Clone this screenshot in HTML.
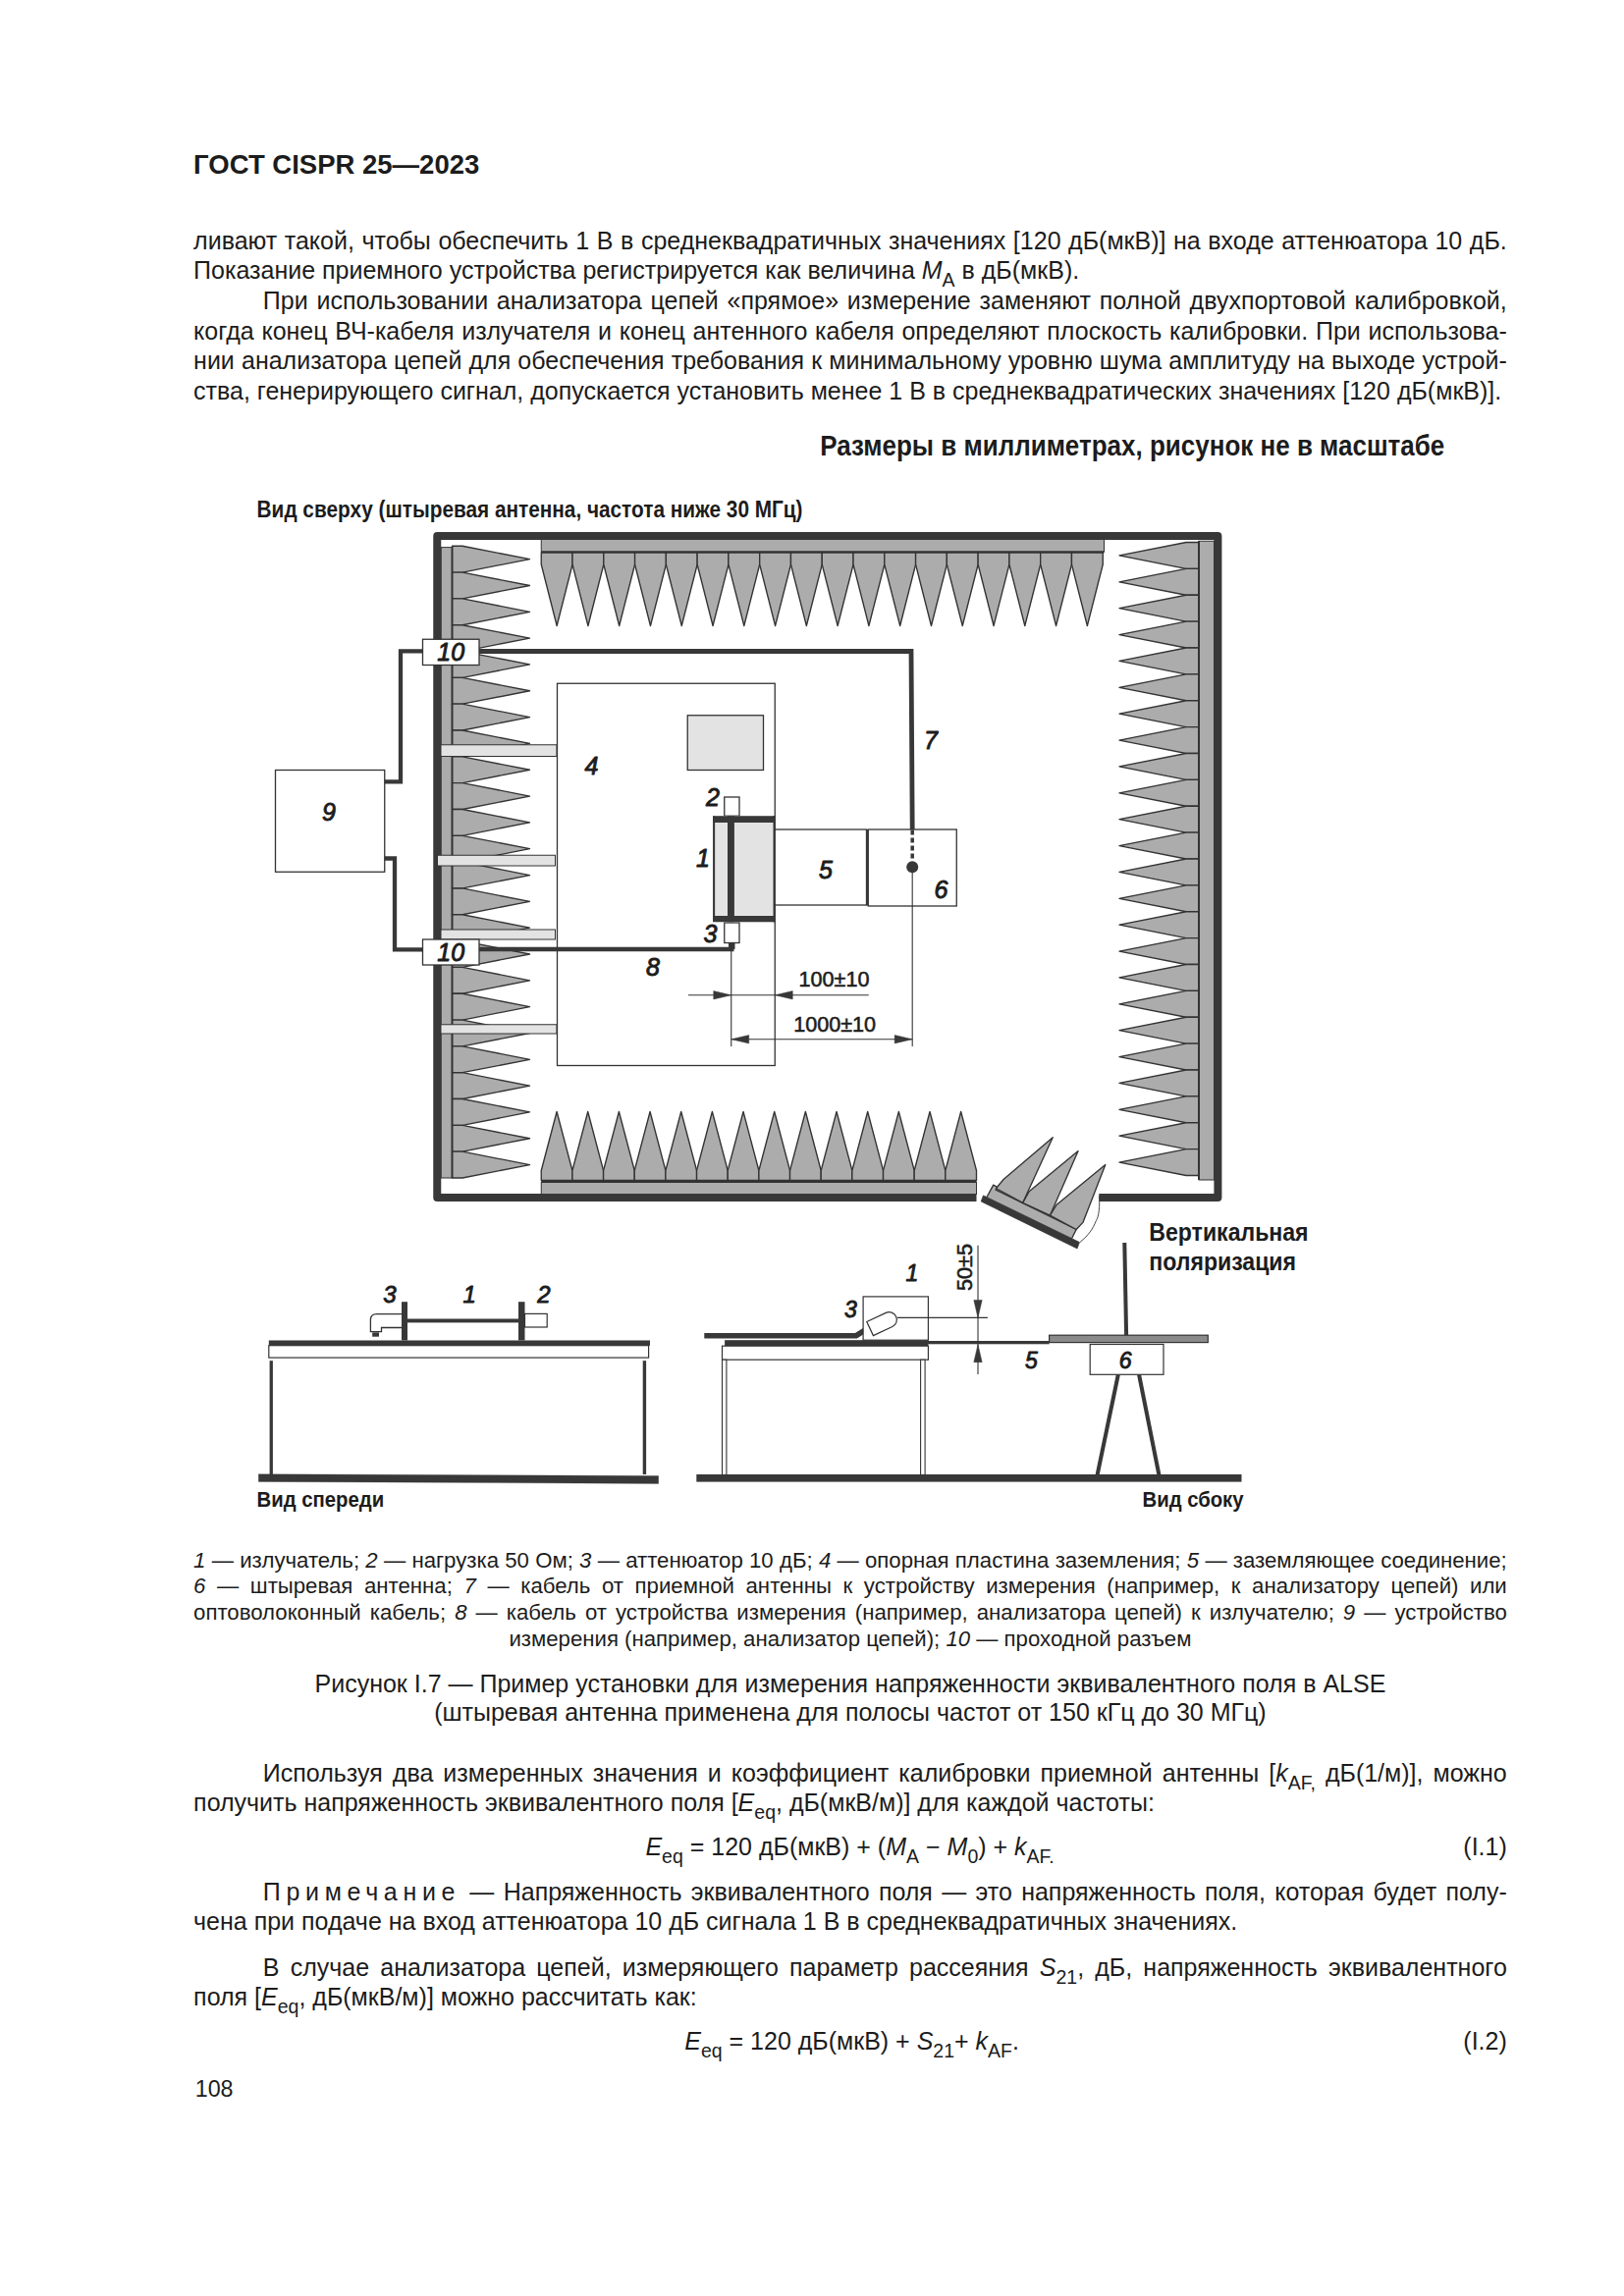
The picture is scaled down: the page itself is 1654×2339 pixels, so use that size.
<!DOCTYPE html>
<html><head><meta charset="utf-8"><title>ГОСТ CISPR 25—2023</title>
<style>
html,body{margin:0;padding:0;background:#fff;}
body{width:1654px;height:2339px;position:relative;overflow:hidden;font-family:"Liberation Sans",sans-serif;color:#1c1c1c;}
.l{position:absolute;white-space:nowrap;}
.l sub{font-size:0.78em;vertical-align:-0.42em;line-height:0;}
svg{position:absolute;left:0;top:0;}
svg text{font-family:"Liberation Sans",sans-serif;fill:#1c1c1c;}
svg text.dm{stroke:#1c1c1c;stroke-width:0.55px;}
svg text.bd{stroke:none;}
svg text.lb{stroke:#1c1c1c;stroke-width:0.9px;stroke-linejoin:round;}
</style></head>
<body>
<svg width="1654" height="2339" viewBox="0 0 1654 2339">
<rect x="449.25" y="557.60" width="11.25" height="642.40" fill="#acacac" stroke="#333" stroke-width="1.0"/>
<polygon points="460.50,556.25 471.00,556.25 539.50,569.66 471.00,583.07 460.50,583.07" fill="#acacac" stroke="#333" stroke-width="1.35" stroke-linejoin="round"/>
<polygon points="460.50,583.07 471.00,583.07 539.50,596.48 471.00,609.90 460.50,609.90" fill="#acacac" stroke="#333" stroke-width="1.35" stroke-linejoin="round"/>
<polygon points="460.50,609.90 471.00,609.90 539.50,623.31 471.00,636.72 460.50,636.72" fill="#acacac" stroke="#333" stroke-width="1.35" stroke-linejoin="round"/>
<polygon points="460.50,636.72 471.00,636.72 539.50,650.13 471.00,663.54 460.50,663.54" fill="#acacac" stroke="#333" stroke-width="1.35" stroke-linejoin="round"/>
<polygon points="460.50,663.54 471.00,663.54 539.50,676.95 471.00,690.36 460.50,690.36" fill="#acacac" stroke="#333" stroke-width="1.35" stroke-linejoin="round"/>
<polygon points="460.50,690.36 471.00,690.36 539.50,703.78 471.00,717.19 460.50,717.19" fill="#acacac" stroke="#333" stroke-width="1.35" stroke-linejoin="round"/>
<polygon points="460.50,717.19 471.00,717.19 539.50,730.60 471.00,744.01 460.50,744.01" fill="#acacac" stroke="#333" stroke-width="1.35" stroke-linejoin="round"/>
<polygon points="460.50,744.01 471.00,744.01 539.50,757.42 471.00,770.83 460.50,770.83" fill="#acacac" stroke="#333" stroke-width="1.35" stroke-linejoin="round"/>
<polygon points="460.50,770.83 471.00,770.83 539.50,784.24 471.00,797.66 460.50,797.66" fill="#acacac" stroke="#333" stroke-width="1.35" stroke-linejoin="round"/>
<polygon points="460.50,797.66 471.00,797.66 539.50,811.07 471.00,824.48 460.50,824.48" fill="#acacac" stroke="#333" stroke-width="1.35" stroke-linejoin="round"/>
<polygon points="460.50,824.48 471.00,824.48 539.50,837.89 471.00,851.30 460.50,851.30" fill="#acacac" stroke="#333" stroke-width="1.35" stroke-linejoin="round"/>
<polygon points="460.50,851.30 471.00,851.30 539.50,864.71 471.00,878.12 460.50,878.12" fill="#acacac" stroke="#333" stroke-width="1.35" stroke-linejoin="round"/>
<polygon points="460.50,878.12 471.00,878.12 539.50,891.54 471.00,904.95 460.50,904.95" fill="#acacac" stroke="#333" stroke-width="1.35" stroke-linejoin="round"/>
<polygon points="460.50,904.95 471.00,904.95 539.50,918.36 471.00,931.77 460.50,931.77" fill="#acacac" stroke="#333" stroke-width="1.35" stroke-linejoin="round"/>
<polygon points="460.50,931.77 471.00,931.77 539.50,945.18 471.00,958.59 460.50,958.59" fill="#acacac" stroke="#333" stroke-width="1.35" stroke-linejoin="round"/>
<polygon points="460.50,958.59 471.00,958.59 539.50,972.01 471.00,985.42 460.50,985.42" fill="#acacac" stroke="#333" stroke-width="1.35" stroke-linejoin="round"/>
<polygon points="460.50,985.42 471.00,985.42 539.50,998.83 471.00,1012.24 460.50,1012.24" fill="#acacac" stroke="#333" stroke-width="1.35" stroke-linejoin="round"/>
<polygon points="460.50,1012.24 471.00,1012.24 539.50,1025.65 471.00,1039.06 460.50,1039.06" fill="#acacac" stroke="#333" stroke-width="1.35" stroke-linejoin="round"/>
<polygon points="460.50,1039.06 471.00,1039.06 539.50,1052.47 471.00,1065.89 460.50,1065.89" fill="#acacac" stroke="#333" stroke-width="1.35" stroke-linejoin="round"/>
<polygon points="460.50,1065.89 471.00,1065.89 539.50,1079.30 471.00,1092.71 460.50,1092.71" fill="#acacac" stroke="#333" stroke-width="1.35" stroke-linejoin="round"/>
<polygon points="460.50,1092.71 471.00,1092.71 539.50,1106.12 471.00,1119.53 460.50,1119.53" fill="#acacac" stroke="#333" stroke-width="1.35" stroke-linejoin="round"/>
<polygon points="460.50,1119.53 471.00,1119.53 539.50,1132.94 471.00,1146.35 460.50,1146.35" fill="#acacac" stroke="#333" stroke-width="1.35" stroke-linejoin="round"/>
<polygon points="460.50,1146.35 471.00,1146.35 539.50,1159.77 471.00,1173.18 460.50,1173.18" fill="#acacac" stroke="#333" stroke-width="1.35" stroke-linejoin="round"/>
<polygon points="460.50,1173.18 471.00,1173.18 539.50,1186.59 471.00,1200.00 460.50,1200.00" fill="#acacac" stroke="#333" stroke-width="1.35" stroke-linejoin="round"/>
<line x1="460.5" y1="557" x2="460.5" y2="1200" stroke="#333" stroke-width="1.8"/>
<rect x="1221.25" y="551.25" width="15.25" height="650.75" fill="#acacac" stroke="#333" stroke-width="1.0"/>
<polygon points="1221.00,552.50 1208.00,552.50 1140.00,565.94 1208.00,579.38 1221.00,579.38" fill="#acacac" stroke="#333" stroke-width="1.35" stroke-linejoin="round"/>
<polygon points="1221.00,579.38 1208.00,579.38 1140.00,592.81 1208.00,606.25 1221.00,606.25" fill="#acacac" stroke="#333" stroke-width="1.35" stroke-linejoin="round"/>
<polygon points="1221.00,606.25 1208.00,606.25 1140.00,619.69 1208.00,633.12 1221.00,633.12" fill="#acacac" stroke="#333" stroke-width="1.35" stroke-linejoin="round"/>
<polygon points="1221.00,633.12 1208.00,633.12 1140.00,646.56 1208.00,660.00 1221.00,660.00" fill="#acacac" stroke="#333" stroke-width="1.35" stroke-linejoin="round"/>
<polygon points="1221.00,660.00 1208.00,660.00 1140.00,673.44 1208.00,686.88 1221.00,686.88" fill="#acacac" stroke="#333" stroke-width="1.35" stroke-linejoin="round"/>
<polygon points="1221.00,686.88 1208.00,686.88 1140.00,700.31 1208.00,713.75 1221.00,713.75" fill="#acacac" stroke="#333" stroke-width="1.35" stroke-linejoin="round"/>
<polygon points="1221.00,713.75 1208.00,713.75 1140.00,727.19 1208.00,740.62 1221.00,740.62" fill="#acacac" stroke="#333" stroke-width="1.35" stroke-linejoin="round"/>
<polygon points="1221.00,740.62 1208.00,740.62 1140.00,754.06 1208.00,767.50 1221.00,767.50" fill="#acacac" stroke="#333" stroke-width="1.35" stroke-linejoin="round"/>
<polygon points="1221.00,767.50 1208.00,767.50 1140.00,780.94 1208.00,794.38 1221.00,794.38" fill="#acacac" stroke="#333" stroke-width="1.35" stroke-linejoin="round"/>
<polygon points="1221.00,794.38 1208.00,794.38 1140.00,807.81 1208.00,821.25 1221.00,821.25" fill="#acacac" stroke="#333" stroke-width="1.35" stroke-linejoin="round"/>
<polygon points="1221.00,821.25 1208.00,821.25 1140.00,834.69 1208.00,848.12 1221.00,848.12" fill="#acacac" stroke="#333" stroke-width="1.35" stroke-linejoin="round"/>
<polygon points="1221.00,848.12 1208.00,848.12 1140.00,861.56 1208.00,875.00 1221.00,875.00" fill="#acacac" stroke="#333" stroke-width="1.35" stroke-linejoin="round"/>
<polygon points="1221.00,875.00 1208.00,875.00 1140.00,888.44 1208.00,901.88 1221.00,901.88" fill="#acacac" stroke="#333" stroke-width="1.35" stroke-linejoin="round"/>
<polygon points="1221.00,901.88 1208.00,901.88 1140.00,915.31 1208.00,928.75 1221.00,928.75" fill="#acacac" stroke="#333" stroke-width="1.35" stroke-linejoin="round"/>
<polygon points="1221.00,928.75 1208.00,928.75 1140.00,942.19 1208.00,955.62 1221.00,955.62" fill="#acacac" stroke="#333" stroke-width="1.35" stroke-linejoin="round"/>
<polygon points="1221.00,955.62 1208.00,955.62 1140.00,969.06 1208.00,982.50 1221.00,982.50" fill="#acacac" stroke="#333" stroke-width="1.35" stroke-linejoin="round"/>
<polygon points="1221.00,982.50 1208.00,982.50 1140.00,995.94 1208.00,1009.38 1221.00,1009.38" fill="#acacac" stroke="#333" stroke-width="1.35" stroke-linejoin="round"/>
<polygon points="1221.00,1009.38 1208.00,1009.38 1140.00,1022.81 1208.00,1036.25 1221.00,1036.25" fill="#acacac" stroke="#333" stroke-width="1.35" stroke-linejoin="round"/>
<polygon points="1221.00,1036.25 1208.00,1036.25 1140.00,1049.69 1208.00,1063.12 1221.00,1063.12" fill="#acacac" stroke="#333" stroke-width="1.35" stroke-linejoin="round"/>
<polygon points="1221.00,1063.12 1208.00,1063.12 1140.00,1076.56 1208.00,1090.00 1221.00,1090.00" fill="#acacac" stroke="#333" stroke-width="1.35" stroke-linejoin="round"/>
<polygon points="1221.00,1090.00 1208.00,1090.00 1140.00,1103.44 1208.00,1116.88 1221.00,1116.88" fill="#acacac" stroke="#333" stroke-width="1.35" stroke-linejoin="round"/>
<polygon points="1221.00,1116.88 1208.00,1116.88 1140.00,1130.31 1208.00,1143.75 1221.00,1143.75" fill="#acacac" stroke="#333" stroke-width="1.35" stroke-linejoin="round"/>
<polygon points="1221.00,1143.75 1208.00,1143.75 1140.00,1157.19 1208.00,1170.62 1221.00,1170.62" fill="#acacac" stroke="#333" stroke-width="1.35" stroke-linejoin="round"/>
<polygon points="1221.00,1170.62 1208.00,1170.62 1140.00,1184.06 1208.00,1197.50 1221.00,1197.50" fill="#acacac" stroke="#333" stroke-width="1.35" stroke-linejoin="round"/>
<line x1="1221" y1="551" x2="1221" y2="1202" stroke="#333" stroke-width="2"/>
<rect x="551.25" y="549.50" width="573.25" height="12.50" fill="#acacac" stroke="#333" stroke-width="1.0"/>
<line x1="551.25" y1="562.5" x2="1124.5" y2="562.5" stroke="#333" stroke-width="2"/>
<polygon points="551.25,563.00 551.25,575.00 567.14,637.50 583.03,575.00 583.03,563.00" fill="#acacac" stroke="#333" stroke-width="1.35" stroke-linejoin="round"/>
<polygon points="583.03,563.00 583.03,575.00 598.92,637.50 614.81,575.00 614.81,563.00" fill="#acacac" stroke="#333" stroke-width="1.35" stroke-linejoin="round"/>
<polygon points="614.81,563.00 614.81,575.00 630.69,637.50 646.58,575.00 646.58,563.00" fill="#acacac" stroke="#333" stroke-width="1.35" stroke-linejoin="round"/>
<polygon points="646.58,563.00 646.58,575.00 662.47,637.50 678.36,575.00 678.36,563.00" fill="#acacac" stroke="#333" stroke-width="1.35" stroke-linejoin="round"/>
<polygon points="678.36,563.00 678.36,575.00 694.25,637.50 710.14,575.00 710.14,563.00" fill="#acacac" stroke="#333" stroke-width="1.35" stroke-linejoin="round"/>
<polygon points="710.14,563.00 710.14,575.00 726.03,637.50 741.92,575.00 741.92,563.00" fill="#acacac" stroke="#333" stroke-width="1.35" stroke-linejoin="round"/>
<polygon points="741.92,563.00 741.92,575.00 757.81,637.50 773.69,575.00 773.69,563.00" fill="#acacac" stroke="#333" stroke-width="1.35" stroke-linejoin="round"/>
<polygon points="773.69,563.00 773.69,575.00 789.58,637.50 805.47,575.00 805.47,563.00" fill="#acacac" stroke="#333" stroke-width="1.35" stroke-linejoin="round"/>
<polygon points="805.47,563.00 805.47,575.00 821.36,637.50 837.25,575.00 837.25,563.00" fill="#acacac" stroke="#333" stroke-width="1.35" stroke-linejoin="round"/>
<polygon points="837.25,563.00 837.25,575.00 853.14,637.50 869.03,575.00 869.03,563.00" fill="#acacac" stroke="#333" stroke-width="1.35" stroke-linejoin="round"/>
<polygon points="869.03,563.00 869.03,575.00 884.92,637.50 900.81,575.00 900.81,563.00" fill="#acacac" stroke="#333" stroke-width="1.35" stroke-linejoin="round"/>
<polygon points="900.81,563.00 900.81,575.00 916.69,637.50 932.58,575.00 932.58,563.00" fill="#acacac" stroke="#333" stroke-width="1.35" stroke-linejoin="round"/>
<polygon points="932.58,563.00 932.58,575.00 948.47,637.50 964.36,575.00 964.36,563.00" fill="#acacac" stroke="#333" stroke-width="1.35" stroke-linejoin="round"/>
<polygon points="964.36,563.00 964.36,575.00 980.25,637.50 996.14,575.00 996.14,563.00" fill="#acacac" stroke="#333" stroke-width="1.35" stroke-linejoin="round"/>
<polygon points="996.14,563.00 996.14,575.00 1012.03,637.50 1027.92,575.00 1027.92,563.00" fill="#acacac" stroke="#333" stroke-width="1.35" stroke-linejoin="round"/>
<polygon points="1027.92,563.00 1027.92,575.00 1043.81,637.50 1059.69,575.00 1059.69,563.00" fill="#acacac" stroke="#333" stroke-width="1.35" stroke-linejoin="round"/>
<polygon points="1059.69,563.00 1059.69,575.00 1075.58,637.50 1091.47,575.00 1091.47,563.00" fill="#acacac" stroke="#333" stroke-width="1.35" stroke-linejoin="round"/>
<polygon points="1091.47,563.00 1091.47,575.00 1107.36,637.50 1123.25,575.00 1123.25,563.00" fill="#acacac" stroke="#333" stroke-width="1.35" stroke-linejoin="round"/>
<rect x="551.25" y="1204.50" width="443.25" height="12.00" fill="#acacac" stroke="#333" stroke-width="1.0"/>
<line x1="551.25" y1="1203.5" x2="994.5" y2="1203.5" stroke="#333" stroke-width="2.4"/>
<polygon points="551.25,1202.50 551.25,1192.50 567.08,1132.50 582.91,1192.50 582.91,1202.50" fill="#acacac" stroke="#333" stroke-width="1.35" stroke-linejoin="round"/>
<polygon points="582.91,1202.50 582.91,1192.50 598.74,1132.50 614.57,1192.50 614.57,1202.50" fill="#acacac" stroke="#333" stroke-width="1.35" stroke-linejoin="round"/>
<polygon points="614.57,1202.50 614.57,1192.50 630.40,1132.50 646.23,1192.50 646.23,1202.50" fill="#acacac" stroke="#333" stroke-width="1.35" stroke-linejoin="round"/>
<polygon points="646.23,1202.50 646.23,1192.50 662.06,1132.50 677.89,1192.50 677.89,1202.50" fill="#acacac" stroke="#333" stroke-width="1.35" stroke-linejoin="round"/>
<polygon points="677.89,1202.50 677.89,1192.50 693.72,1132.50 709.55,1192.50 709.55,1202.50" fill="#acacac" stroke="#333" stroke-width="1.35" stroke-linejoin="round"/>
<polygon points="709.55,1202.50 709.55,1192.50 725.38,1132.50 741.21,1192.50 741.21,1202.50" fill="#acacac" stroke="#333" stroke-width="1.35" stroke-linejoin="round"/>
<polygon points="741.21,1202.50 741.21,1192.50 757.04,1132.50 772.88,1192.50 772.88,1202.50" fill="#acacac" stroke="#333" stroke-width="1.35" stroke-linejoin="round"/>
<polygon points="772.88,1202.50 772.88,1192.50 788.71,1132.50 804.54,1192.50 804.54,1202.50" fill="#acacac" stroke="#333" stroke-width="1.35" stroke-linejoin="round"/>
<polygon points="804.54,1202.50 804.54,1192.50 820.37,1132.50 836.20,1192.50 836.20,1202.50" fill="#acacac" stroke="#333" stroke-width="1.35" stroke-linejoin="round"/>
<polygon points="836.20,1202.50 836.20,1192.50 852.03,1132.50 867.86,1192.50 867.86,1202.50" fill="#acacac" stroke="#333" stroke-width="1.35" stroke-linejoin="round"/>
<polygon points="867.86,1202.50 867.86,1192.50 883.69,1132.50 899.52,1192.50 899.52,1202.50" fill="#acacac" stroke="#333" stroke-width="1.35" stroke-linejoin="round"/>
<polygon points="899.52,1202.50 899.52,1192.50 915.35,1132.50 931.18,1192.50 931.18,1202.50" fill="#acacac" stroke="#333" stroke-width="1.35" stroke-linejoin="round"/>
<polygon points="931.18,1202.50 931.18,1192.50 947.01,1132.50 962.84,1192.50 962.84,1202.50" fill="#acacac" stroke="#333" stroke-width="1.35" stroke-linejoin="round"/>
<polygon points="962.84,1202.50 962.84,1192.50 978.67,1132.50 994.50,1192.50 994.50,1202.50" fill="#acacac" stroke="#333" stroke-width="1.35" stroke-linejoin="round"/>
<path d="M 994.5 1220 L 445.25 1220 L 445.25 546 L 1240.4 546 L 1240.4 1220 L 1119.3 1220" fill="none" stroke="#383838" stroke-width="8" stroke-linejoin="round"/>
<polygon points="1004.20,1221.00 1011.70,1207.10 1015.40,1209.10 1014.20,1212.10 1096.20,1252.50 1090.60,1263.50" fill="#acacac" stroke="#333" stroke-width="1.35" stroke-linejoin="round"/>
<polygon points="1001.50,1217.90 1099.40,1265.50 1097.10,1271.90 999.20,1223.90" fill="#383838" stroke="#383838" stroke-width="0.8" stroke-linejoin="round"/>
<polygon points="1014.90,1211.00 1016.80,1207.70 1022.30,1201.30 1072.20,1158.80 1041.70,1225.30" fill="#acacac" stroke="#333" stroke-width="1.35" stroke-linejoin="round"/>
<polygon points="1041.70,1225.30 1048.20,1213.70 1098.10,1172.60 1069.40,1238.20" fill="#acacac" stroke="#333" stroke-width="1.35" stroke-linejoin="round"/>
<polygon points="1069.40,1238.20 1075.90,1227.60 1125.80,1186.50 1103.10,1245.10 1096.20,1252.50" fill="#acacac" stroke="#333" stroke-width="1.35" stroke-linejoin="round"/>
<path d="M 1119.3 1218.3 C 1120.5 1228 1119 1240 1116.5 1243.3 C 1113 1252 1109 1258 1099.9 1265.5" fill="#fff" stroke="#333" stroke-width="0.9" />
<rect x="449.00" y="758.75" width="118.00" height="11.75" fill="#e3e3e3" stroke="#333" stroke-width="1.0"/>
<rect x="445.50" y="871.25" width="120.00" height="10.75" fill="#e3e3e3" stroke="#333" stroke-width="1.0"/>
<rect x="449.00" y="947.00" width="116.50" height="10.00" fill="#e3e3e3" stroke="#333" stroke-width="1.0"/>
<rect x="449.00" y="1043.75" width="118.00" height="9.25" fill="#e3e3e3" stroke="#333" stroke-width="1.0"/>
<rect x="567.50" y="696.25" width="221.75" height="389.25" fill="#fff" stroke="#333" stroke-width="1.3"/>
<rect x="700.25" y="728.75" width="77.25" height="55.75" fill="#e3e3e3" stroke="#333" stroke-width="1.3"/>
<rect x="280.50" y="784.50" width="111.25" height="103.75" fill="#fff" stroke="#333" stroke-width="1.3"/>
<path d="M 430.5 663.4 L 408 663.4 L 408 796.3 L 391.75 796.3" fill="none" stroke="#383838" stroke-width="4.3" />
<path d="M 488 663.5 L 928 663.5 L 929.2 845.5" fill="none" stroke="#383838" stroke-width="4.8" />
<path d="M 929.2 845.5 L 929.2 876" fill="none" stroke="#383838" stroke-width="3.5" stroke-dasharray="5 3"/>
<circle cx="929.2" cy="883.3" r="6" fill="#383838"/>
<path d="M 391.75 874.5 L 402 874.5 L 402 967.3 L 430.5 967.3" fill="none" stroke="#383838" stroke-width="4.3" />
<path d="M 488 967.1 L 747.5 967.1" fill="none" stroke="#383838" stroke-width="4.5" />
<rect x="742.00" y="958.00" width="6.50" height="9.00" fill="#383838"/>
<rect x="430.50" y="651.25" width="57.50" height="26.25" fill="#fff" stroke="#333" stroke-width="1.3"/>
<rect x="430.50" y="957.00" width="57.50" height="26.00" fill="#fff" stroke="#333" stroke-width="1.3"/>
<rect x="737.75" y="812.00" width="15.25" height="19.25" fill="#fff" stroke="#333" stroke-width="1.3"/>
<rect x="737.75" y="940.00" width="15.25" height="20.50" fill="#fff" stroke="#333" stroke-width="1.3"/>
<rect x="726.00" y="831.25" width="62.50" height="108.00" fill="#e3e3e3"/>
<line x1="727.1" y1="831.5" x2="727.1" y2="939" stroke="#383838" stroke-width="2.1"/>
<rect x="726.00" y="831.25" width="62.50" height="6.75" fill="#383838"/>
<rect x="726.00" y="933.00" width="62.50" height="6.25" fill="#383838"/>
<rect x="741.00" y="831.25" width="6.90" height="108.00" fill="#383838"/>
<line x1="788.6" y1="831" x2="788.6" y2="939.5" stroke="#383838" stroke-width="2.2"/>
<rect x="789.25" y="845.00" width="93.25" height="77.00" fill="#fff" stroke="#333" stroke-width="1.3"/>
<rect x="884.25" y="845.00" width="90.00" height="78.00" fill="#fff" stroke="#333" stroke-width="1.3"/>
<line x1="883.3" y1="845" x2="883.3" y2="922.5" stroke="#383838" stroke-width="2"/>
<path d="M 929.2 845.5 L 929.2 876" fill="none" stroke="#383838" stroke-width="3.5" stroke-dasharray="5 3"/>
<circle cx="929.2" cy="883.3" r="6" fill="#383838"/>
<line x1="744.75" y1="962" x2="744.75" y2="1066" stroke="#333" stroke-width="1.1"/>
<line x1="929.2" y1="889" x2="929.2" y2="1066" stroke="#333" stroke-width="1.1"/>
<line x1="701" y1="1013.75" x2="884.75" y2="1013.75" stroke="#333" stroke-width="1.1"/>
<polygon points="744.75,1013.75 726.75,1017.95 726.75,1009.55" fill="#383838" stroke="#383838" stroke-width="0.5" stroke-linejoin="round"/>
<polygon points="789.25,1013.75 807.25,1009.55 807.25,1017.95" fill="#383838" stroke="#383838" stroke-width="0.5" stroke-linejoin="round"/>
<line x1="744.75" y1="1058.7" x2="929.2" y2="1058.7" stroke="#333" stroke-width="1.1"/>
<polygon points="744.75,1058.70 762.75,1054.50 762.75,1062.90" fill="#383838" stroke="#383838" stroke-width="0.5" stroke-linejoin="round"/>
<polygon points="929.20,1058.70 911.20,1062.90 911.20,1054.50" fill="#383838" stroke="#383838" stroke-width="0.5" stroke-linejoin="round"/>
<text x="849.5" y="1005" font-size="21.6" text-anchor="middle" class="dm">100±10</text>
<text x="850.1" y="1051.3" font-size="21.6" text-anchor="middle" class="dm">1000±10</text>
<text x="459.25" y="673.35" font-size="25" font-style="italic" text-anchor="middle" class="lb">10</text>
<text x="459.25" y="978.95" font-size="25" font-style="italic" text-anchor="middle" class="lb">10</text>
<text x="335.00" y="836.45" font-size="25" font-style="italic" text-anchor="middle" class="lb">9</text>
<text x="602.50" y="788.95" font-size="25" font-style="italic" text-anchor="middle" class="lb">4</text>
<text x="948.00" y="762.70" font-size="25" font-style="italic" text-anchor="middle" class="lb">7</text>
<text x="726.00" y="821.45" font-size="25" font-style="italic" text-anchor="middle" class="lb">2</text>
<text x="716.00" y="882.70" font-size="25" font-style="italic" text-anchor="middle" class="lb">1</text>
<text x="723.50" y="960.20" font-size="25" font-style="italic" text-anchor="middle" class="lb">3</text>
<text x="841.00" y="895.20" font-size="25" font-style="italic" text-anchor="middle" class="lb">5</text>
<text x="958.50" y="915.20" font-size="25" font-style="italic" text-anchor="middle" class="lb">6</text>
<text x="665.00" y="993.95" font-size="25" font-style="italic" text-anchor="middle" class="lb">8</text>
<rect x="273.80" y="1370.70" width="386.80" height="12.40" fill="#fff" stroke="#333" stroke-width="1.2"/>
<rect x="273.80" y="1365.50" width="388.20" height="5.40" fill="#383838"/>
<rect x="274.60" y="1386.20" width="3.30" height="115.80" fill="#383838"/>
<rect x="654.70" y="1386.20" width="3.40" height="115.80" fill="#383838"/>
<polygon points="263.30,1501.70 670.70,1503.50 670.70,1511.40 263.30,1509.40" fill="#383838" stroke="#383838" stroke-width="0.3" stroke-linejoin="round"/>
<rect x="409.00" y="1326.20" width="6.00" height="39.30" fill="#383838"/>
<rect x="528.00" y="1326.20" width="6.50" height="39.30" fill="#383838"/>
<rect x="415.00" y="1343.50" width="113.00" height="3.90" fill="#383838"/>
<rect x="534.50" y="1338.40" width="22.70" height="13.60" fill="#fff" stroke="#333" stroke-width="1.2"/>
<path d="M 409 1338.6 L 383.5 1338.6 Q 377.4 1338.6 377.4 1344.5 L 377.4 1356.6 L 388.5 1356.6 L 388.5 1352.5 L 409 1352.5" fill="#fff" stroke="#333" stroke-width="1.3" />
<rect x="379.20" y="1357.40" width="6.80" height="4.30" fill="#383838"/>
<text x="396.90" y="1327.19" font-size="24" font-style="italic" text-anchor="middle" class="lb">3</text>
<text x="478.30" y="1327.19" font-size="24" font-style="italic" text-anchor="middle" class="lb">1</text>
<text x="553.90" y="1327.19" font-size="24" font-style="italic" text-anchor="middle" class="lb">2</text>
<path d="M 717.3 1360.7 L 872 1360.7 L 884 1353.2" fill="none" stroke="#383838" stroke-width="5.5" />
<rect x="738.10" y="1365.20" width="207.30" height="6.00" fill="#383838"/>
<rect x="945.00" y="1366.00" width="123.60" height="3.30" fill="#383838"/>
<rect x="735.50" y="1371.20" width="209.90" height="14.00" fill="#fff" stroke="#333" stroke-width="1.2"/>
<rect x="735.50" y="1385.20" width="4.40" height="117.30" fill="#fff" stroke="#333" stroke-width="1.1"/>
<rect x="937.60" y="1385.20" width="4.50" height="117.30" fill="#fff" stroke="#333" stroke-width="1.1"/>
<rect x="709.30" y="1502.00" width="555.20" height="7.60" fill="#383838"/>
<rect x="879.10" y="1320.90" width="66.30" height="44.30" fill="#fff" stroke="#333" stroke-width="1.2"/>
<g transform="translate(886.1 1353.55) rotate(-25)"><path d="M 0 -7.8 L 21.5 -7.8 A 7.8 7.8 0 0 1 21.5 7.8 L 0 7.8 Z" fill="#fff" stroke="#333" stroke-width="1.2"/></g>
<line x1="996" y1="1268.8" x2="996" y2="1400" stroke="#333" stroke-width="1.1"/>
<polygon points="996.00,1342.40 991.80,1324.40 1000.20,1324.40" fill="#383838" stroke="#383838" stroke-width="0.5" stroke-linejoin="round"/>
<polygon points="996.00,1369.70 1000.20,1387.70 991.80,1387.70" fill="#383838" stroke="#383838" stroke-width="0.5" stroke-linejoin="round"/>
<line x1="913.9" y1="1342.4" x2="1005.9" y2="1342.4" stroke="#333" stroke-width="1.1"/>
<text transform="translate(989.5 1291) rotate(-90)" font-size="21.6" text-anchor="middle" class="dm">50±5</text>
<text x="866.30" y="1342.43" font-size="23" font-style="italic" text-anchor="middle" class="lb">3</text>
<text x="928.80" y="1304.73" font-size="23" font-style="italic" text-anchor="middle" class="lb">1</text>
<text x="1050.30" y="1393.83" font-size="23" font-style="italic" text-anchor="middle" class="lb">5</text>
<rect x="1068.60" y="1360.20" width="161.70" height="7.40" fill="#8a8a8a" stroke="#333" stroke-width="1.2"/>
<path d="M 1145.3 1266 L 1147.1 1360.2" fill="none" stroke="#383838" stroke-width="4" />
<rect x="1110.20" y="1369.50" width="74.80" height="30.80" fill="#fff" stroke="#333" stroke-width="1.2"/>
<text x="1146.20" y="1393.63" font-size="23" font-style="italic" text-anchor="middle" class="lb">6</text>
<path d="M 1138.8 1400.5 L 1117.6 1502.5" fill="none" stroke="#383838" stroke-width="4" />
<path d="M 1160.1 1400.5 L 1180.4 1502.5" fill="none" stroke="#383838" stroke-width="4" />
<text transform="translate(835.2 464.0) scale(0.8850 1)" font-size="29.38" font-weight="bold" class="bd">Размеры в миллиметрах, рисунок не в масштабе</text>
<text transform="translate(261.6 526.6) scale(0.8850 1)" font-size="23.50" font-weight="bold" class="bd">Вид сверху (штыревая антенна, частота ниже 30 МГц)</text>
<text transform="translate(1170.3 1264.2) scale(0.8850 1)" font-size="26.10" font-weight="bold" class="bd">Вертикальная</text>
<text transform="translate(1170.3 1293.7) scale(0.8850 1)" font-size="26.10" font-weight="bold" class="bd">поляризация</text>
<text transform="translate(261.6 1534.6) scale(0.8850 1)" font-size="22.94" font-weight="bold" class="bd">Вид спереди</text>
<text transform="translate(1163.5 1534.9) scale(0.8850 1)" font-size="22.94" font-weight="bold" class="bd">Вид сбоку</text>
</svg>
<div class="l" style="left:197.10px;top:153.21px;font-size:27.5px;line-height:30.6px;text-align:left;font-weight:bold;">ГОСТ CISPR 25—2023</div>
<div class="l" style="left:197.10px;top:230.19px;font-size:25.0px;line-height:30.6px;width:1337.70px;text-align:justify;text-align-last:justify;">ливают такой, чтобы обеспечить 1 В в среднеквадратичных значениях [120 дБ(мкВ)] на входе аттенюатора 10 дБ.</div>
<div class="l" style="left:197.10px;top:259.94px;font-size:25.0px;line-height:30.6px;text-align:left;">Показание приемного устройства регистрируется как величина <i>M</i><sub>A</sub> в дБ(мкВ).</div>
<div class="l" style="left:267.85px;top:291.44px;font-size:25.0px;line-height:30.6px;width:1266.95px;text-align:justify;text-align-last:justify;">При использовании анализатора цепей «прямое» измерение заменяют полной двухпортовой калибровкой,</div>
<div class="l" style="left:197.10px;top:321.94px;font-size:25.0px;line-height:30.6px;width:1337.70px;text-align:justify;text-align-last:justify;">когда конец ВЧ-кабеля излучателя и конец антенного кабеля определяют плоскость калибровки. При использова-</div>
<div class="l" style="left:197.10px;top:352.44px;font-size:25.0px;line-height:30.6px;width:1337.70px;text-align:justify;text-align-last:justify;">нии анализатора цепей для обеспечения требования к минимальному уровню шума амплитуду на выходе устрой-</div>
<div class="l" style="left:197.10px;top:383.19px;font-size:25.0px;line-height:30.6px;text-align:left;">ства, генерирующего сигнал, допускается установить менее 1 В в среднеквадратических значениях [120 дБ(мкВ)].</div>
<div class="l" style="left:197.10px;top:1577.16px;font-size:22.2px;line-height:26.0px;width:1337.70px;text-align:justify;text-align-last:justify;"><i>1</i> — излучатель; <i>2</i> — нагрузка 50 Ом; <i>3</i> — аттенюатор 10 дБ; <i>4</i> — опорная пластина заземления; <i>5</i> — заземляющее соединение;</div>
<div class="l" style="left:197.10px;top:1602.86px;font-size:22.2px;line-height:26.0px;width:1337.70px;text-align:justify;text-align-last:justify;"><i>6</i> — штыревая антенна; <i>7</i> — кабель от приемной антенны к устройству измерения (например, к анализатору цепей) или</div>
<div class="l" style="left:197.10px;top:1630.06px;font-size:22.2px;line-height:26.0px;width:1337.70px;text-align:justify;text-align-last:justify;">оптоволоконный кабель; <i>8</i> — кабель от устройства измерения (например, анализатора цепей) к излучателю; <i>9</i> — устройство</div>
<div class="l" style="left:197.10px;top:1657.36px;font-size:22.2px;line-height:26.0px;width:1337.70px;text-align:center;">измерения (например, анализатор цепей); <i>10</i> — проходной разъем</div>
<div class="l" style="left:197.10px;top:1699.54px;font-size:25.0px;line-height:30.6px;width:1337.70px;text-align:center;">Рисунок I.7 — Пример установки для измерения напряженности эквивалентного поля в ALSE</div>
<div class="l" style="left:197.10px;top:1729.44px;font-size:25.0px;line-height:30.6px;width:1337.70px;text-align:center;">(штыревая антенна применена для полосы частот от 150 кГц до 30 МГц)</div>
<div class="l" style="left:267.85px;top:1790.74px;font-size:25.0px;line-height:30.6px;width:1266.95px;text-align:justify;text-align-last:justify;">Используя два измеренных значения и коэффициент калибровки приемной антенны [<i>k</i><sub>AF,</sub> дБ(1/м)], можно</div>
<div class="l" style="left:197.10px;top:1821.44px;font-size:25.0px;line-height:30.6px;text-align:left;">получить напряженность эквивалентного поля [<i>E</i><sub>eq</sub>, дБ(мкВ/м)] для каждой частоты:</div>
<div class="l" style="left:657.40px;top:1866.14px;font-size:25.0px;line-height:30.6px;text-align:left;"><i>E</i><sub>eq</sub> = 120 дБ(мкВ) + (<i>M</i><sub>A</sub> − <i>M</i><sub>0</sub>) + <i>k</i><sub>AF.</sub></div>
<div class="l" style="left:197.10px;top:1866.14px;font-size:25.0px;line-height:30.6px;width:1337.70px;text-align:right;">(I.1)</div>
<div class="l" style="left:267.85px;top:1912.24px;font-size:25.0px;line-height:30.6px;width:1266.95px;text-align:justify;text-align-last:justify;"><span style="letter-spacing:0.226em">Примечание</span> — Напряженность эквивалентного поля — это напряженность поля, которая будет полу-</div>
<div class="l" style="left:197.10px;top:1941.54px;font-size:25.0px;line-height:30.6px;text-align:left;">чена при подаче на вход аттенюатора 10 дБ сигнала 1 В в среднеквадратичных значениях.</div>
<div class="l" style="left:267.85px;top:1988.84px;font-size:25.0px;line-height:30.6px;width:1266.95px;text-align:justify;text-align-last:justify;">В случае анализатора цепей, измеряющего параметр рассеяния <i>S</i><sub>21</sub>, дБ, напряженность эквивалентного</div>
<div class="l" style="left:197.10px;top:2019.04px;font-size:25.0px;line-height:30.6px;text-align:left;">поля [<i>E</i><sub>eq</sub>, дБ(мкВ/м)] можно рассчитать как:</div>
<div class="l" style="left:697.20px;top:2064.24px;font-size:25.0px;line-height:30.6px;text-align:left;"><i>E</i><sub>eq</sub> = 120 дБ(мкВ) + <i>S</i><sub>21</sub>+ <i>k</i><sub>AF</sub>.</div>
<div class="l" style="left:197.10px;top:2064.24px;font-size:25.0px;line-height:30.6px;width:1337.70px;text-align:right;">(I.2)</div>
<div class="l" style="left:198.70px;top:2113.20px;font-size:23.3px;line-height:30.6px;text-align:left;">108</div>
</body></html>
